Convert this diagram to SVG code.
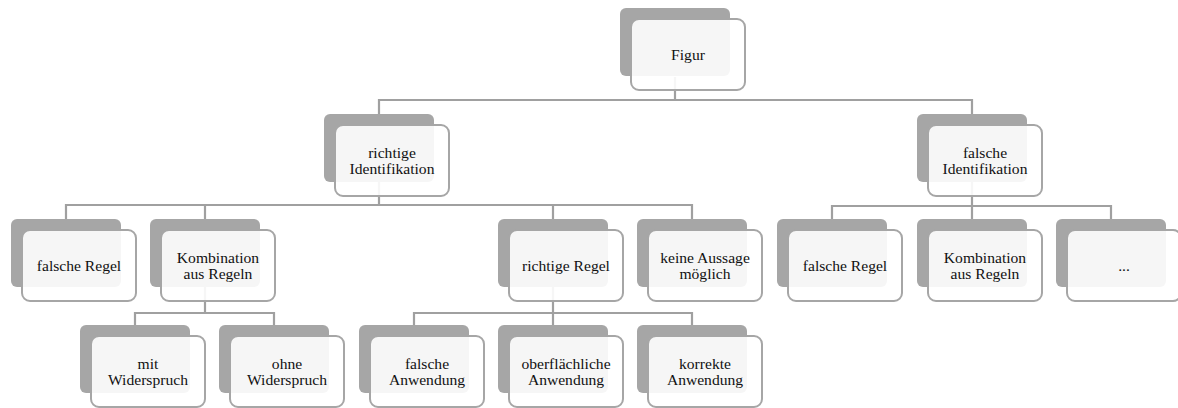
<svg xmlns="http://www.w3.org/2000/svg" width="1178" height="408" viewBox="0 0 1178 408">
<style>
.bg{fill:#a6a6a6}
.fr{fill:#ffffff;fill-opacity:0.9;stroke:#a6a6a6;stroke-width:2}
.cn{fill:none;stroke:#a0a0a0;stroke-width:2.2}
.t{font-family:'Liberation Serif','Times New Roman',serif;font-size:15.6px;fill:#111111;text-anchor:middle}
</style>
<defs>
<g id="box"><rect class="bg" x="0" y="0" width="110" height="68" rx="6"/><rect class="fr" x="11" y="11" width="114" height="71" rx="8"/></g>
</defs>
<rect width="1178" height="408" fill="#ffffff"/>
<g id="connectors">
<path class="cn" d="M675,77V100M379,114V100H972V114"/>
<path class="cn" d="M379,182V205M66,219V205H692V219M205,205V219M553,205V219"/>
<path class="cn" d="M972,182V206M832,219V206H1111V219M972,206V219"/>
<path class="cn" d="M205,287V313M135,325V313H274V325"/>
<path class="cn" d="M553,287V313M414,325V313H692V325M553,313V325"/>
</g>
<g class="t">
<g id="n0" transform="translate(620,8)"><use href="#box"/><text x="68" y="51.5">Figur</text></g>
<g id="n1" transform="translate(324,114)"><use href="#box"/><text x="68" y="44">richtige</text><text x="68" y="60">Identifikation</text></g>
<g id="n2" transform="translate(917,114)"><use href="#box"/><text x="68" y="44">falsche</text><text x="68" y="60">Identifikation</text></g>
<g id="n3" transform="translate(11,219)"><use href="#box"/><text x="68" y="51.5">falsche Regel</text></g>
<g id="n4" transform="translate(150,219)"><use href="#box"/><text x="68" y="44">Kombination</text><text x="68" y="60">aus Regeln</text></g>
<g id="n5" transform="translate(498,219)"><use href="#box"/><text x="68" y="51.5">richtige Regel</text></g>
<g id="n6" transform="translate(637,219)"><use href="#box"/><text x="68" y="44">keine Aussage</text><text x="68" y="60">möglich</text></g>
<g id="n7" transform="translate(777,219)"><use href="#box"/><text x="68" y="51.5">falsche Regel</text></g>
<g id="n8" transform="translate(917,219)"><use href="#box"/><text x="68" y="44">Kombination</text><text x="68" y="60">aus Regeln</text></g>
<g id="n9" transform="translate(1056,219)"><use href="#box"/><text x="68" y="51.5">...</text></g>
<g id="n10" transform="translate(80,325)"><use href="#box"/><text x="68" y="44">mit</text><text x="68" y="60">Widerspruch</text></g>
<g id="n11" transform="translate(219,325)"><use href="#box"/><text x="68" y="44">ohne</text><text x="68" y="60">Widerspruch</text></g>
<g id="n12" transform="translate(359,325)"><use href="#box"/><text x="68" y="44">falsche</text><text x="68" y="60">Anwendung</text></g>
<g id="n13" transform="translate(498,325)"><use href="#box"/><text x="68" y="44">oberflächliche</text><text x="68" y="60">Anwendung</text></g>
<g id="n14" transform="translate(637,325)"><use href="#box"/><text x="68" y="44">korrekte</text><text x="68" y="60">Anwendung</text></g>
</g>
</svg>
